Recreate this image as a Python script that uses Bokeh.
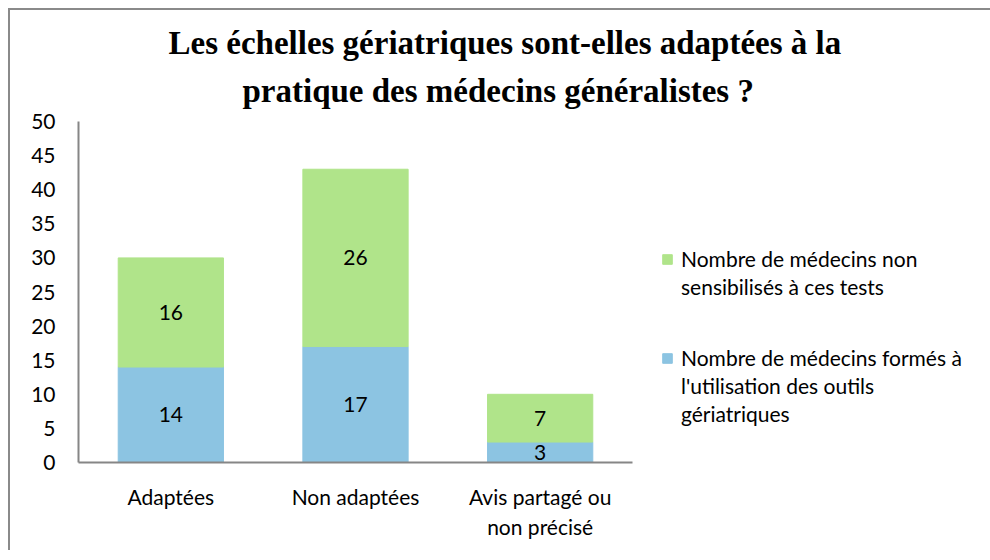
from bokeh.plotting import figure
from bokeh.models import Legend, LegendItem, Title, ColumnDataSource, LabelSet
from bokeh.embed import file_html
from bokeh.resources import INLINE
from bokeh.core.properties import value

categories = ["Adaptées", "Non adaptées", "Avis partagé ou\nnon précisé"]
formes = [14, 17, 3]
non_sensibilises = [16, 26, 7]
legend_non = ["Nombre de médecins non", "sensibilisés à ces tests"]
legend_formes = ["Nombre de médecins formés à", "l'utilisation des outils", "gériatriques"]
title_lines = ["Les échelles gériatriques sont-elles adaptées à la",
               "pratique des médecins généralistes ?"]
y_ticks = [0, 5, 10, 15, 20, 25, 30, 35, 40, 45, 50]

BLUE = "#8CC4E2"
GREEN = "#B0E48A"
SANS = "Lato"
FS = "21px"
AXIS_COL = "#868686"

p = figure(x_range=categories, y_range=(0, 50),
           frame_width=554, frame_height=341,
           output_backend="svg", toolbar_location=None,
           min_border_left=68, min_border_right=358, min_border_top=111,
           min_border_bottom=88)
p.outline_line_color = None
p.xgrid.grid_line_color = None
p.ygrid.grid_line_color = None
p.styles = {"border-left": "2px solid #8a8a8a", "border-top": "2px solid #8a8a8a",
            "margin-left": "8px", "margin-top": "8px"}

src = ColumnDataSource(dict(cat=categories,
                            top1=formes,
                            top2=[a + b for a, b in zip(formes, non_sensibilises)],
                            mid1=[a / 2 for a in formes],
                            mid2=[a + b / 2 for a, b in zip(formes, non_sensibilises)],
                            lab1=[str(v) for v in formes],
                            lab2=[str(v) for v in non_sensibilises]))

r1 = p.vbar(x="cat", bottom=0, top="top1", width=0.57, color=BLUE, source=src)
r2 = p.vbar(x="cat", bottom="top1", top="top2", width=0.57, color=GREEN, source=src)
blank = p.vbar(x=[], bottom=[], top=[], width=0.5, fill_alpha=0, line_alpha=0)

for mid, lab in (("mid1", "lab1"), ("mid2", "lab2")):
    ls = LabelSet(x="cat", y=mid, text=lab, source=src, text_align="center",
                  text_baseline="middle", text_font=value(SANS),
                  text_font_size=FS, text_color="#000000")
    p.add_layout(ls)

p.yaxis.ticker = y_ticks
p.yaxis.major_tick_line_color = None
p.yaxis.minor_tick_line_color = None
p.yaxis.axis_line_color = AXIS_COL
p.yaxis.axis_line_width = 2
p.yaxis.major_label_standoff = 17
p.yaxis.major_label_text_font = SANS
p.yaxis.major_label_text_font_size = FS
p.yaxis.major_label_text_color = "#000000"

p.xaxis.major_tick_line_color = None
p.xaxis.minor_tick_line_color = None
p.xaxis.axis_line_color = AXIS_COL
p.xaxis.axis_line_width = 2
p.xaxis.major_label_standoff = 15
p.xaxis.major_label_text_font = SANS
p.xaxis.major_label_text_font_size = FS
p.xaxis.major_label_text_color = "#000000"

items = [LegendItem(label=legend_non[0], renderers=[r2]),
         LegendItem(label=legend_non[1], renderers=[blank]),
         LegendItem(label="\u00a0", renderers=[blank]),
         LegendItem(label=" \n ", renderers=[blank]),
         LegendItem(label=legend_formes[0], renderers=[r1]),
         LegendItem(label=legend_formes[1], renderers=[blank]),
         LegendItem(label=legend_formes[2], renderers=[blank])]
legend = Legend(items=items, location=(29, 36), orientation="vertical",
                border_line_color=None, background_fill_alpha=0,
                glyph_width=12, glyph_height=12, label_standoff=8,
                label_height=12,
                label_text_font=SANS, label_text_font_size=FS,
                label_text_color="#000000",
                label_text_line_height=0.7, spacing=3, padding=0, margin=0)
p.add_layout(legend, "right")

p.add_layout(Title(text=title_lines[1], align="left", offset=164,
                   text_font="Liberation Serif", text_font_style="bold",
                   text_font_size="33px", text_color="#000000", standoff=26), "above")
p.add_layout(Title(text=title_lines[0], align="left", offset=90,
                   text_font="Liberation Serif", text_font_style="bold",
                   text_font_size="33px", text_color="#000000", standoff=-6), "above")

open("out.html", "w").write(file_html(p, INLINE))
